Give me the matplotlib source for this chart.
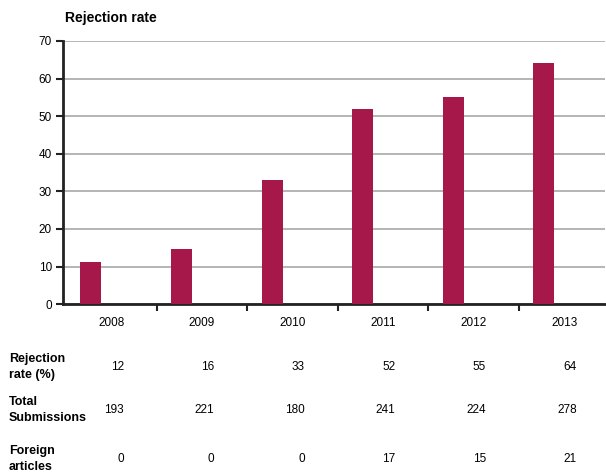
import matplotlib.pyplot as plt
from matplotlib.transforms import blended_transform_factory

plt.rcParams['font.family'] = ['Liberation Sans', 'DejaVu Sans']

years = ['2008', '2009', '2010', '2011', '2012', '2013']
bar_values = [11.2, 14.6, 33.0, 52.0, 55.2, 64.0]
rejection_pct = ['12', '16', '33', '52', '55', '64']
total_submissions = ['193', '221', '180', '241', '224', '278']
foreign_articles = ['0', '0', '0', '17', '15', '21']
row_labels = ['Rejection\nrate (%)', 'Total\nSubmissions', 'Foreign\narticles']
bar_color = '#A6174A'


def main():
    fig = plt.figure(figsize=(6.06, 4.76), dpi=100)
    ax = fig.add_axes([63 / 606, 0.361, 542 / 606, 0.553])

    x = list(range(len(years)))
    ax.grid(axis='y', color='#b4b4b4', linewidth=1.4, zorder=0)
    ax.bar([i - 0.225 for i in x], bar_values, width=0.232,
           color=bar_color, zorder=3)

    ax.set_xlim(-0.533, 5.449)
    ax.set_ylim(0, 70)
    ax.set_yticks(range(0, 71, 10))
    ax.set_xticks(x)
    ax.set_xticklabels(years)
    ax.set_xticks([i + 0.5 for i in x[:-1]], minor=True)
    ax.tick_params(axis='x', which='major', length=0, pad=9, labelsize=8.5)
    ax.tick_params(axis='x', which='minor', length=5, width=1.5, color='#222222')
    ax.tick_params(axis='y', length=5, width=1.5, labelsize=8.5, pad=3,
                   color='#222222')

    for side in ('top', 'right'):
        ax.spines[side].set_visible(False)
    for side in ('left', 'bottom'):
        ax.spines[side].set_linewidth(2)
        ax.spines[side].set_color('#222222')
    ax.set_axisbelow(True)

    fig.text(0.107, 0.962, 'Rejection rate', fontsize=10, fontweight='bold',
             ha='left', va='center')

    # table under the chart
    trans = blended_transform_factory(ax.transData, fig.transFigure)
    rows = [rejection_pct, total_submissions, foreign_articles]
    row_y = [1 - 367 / 476, 1 - 410 / 476, 1 - 459 / 476]
    for label, vals, y in zip(row_labels, rows, row_y):
        fig.text(9 / 606, y, label, fontsize=9, fontweight='bold',
                 ha='left', va='center', linespacing=1.35)
        for i, v in zip(x, vals):
            ax.text(i + 0.138, y, v, transform=trans, fontsize=8.5,
                    ha='right', va='center', clip_on=False)

    fig.savefig('out.png', dpi=100)


if __name__ == '__main__':
    main()
